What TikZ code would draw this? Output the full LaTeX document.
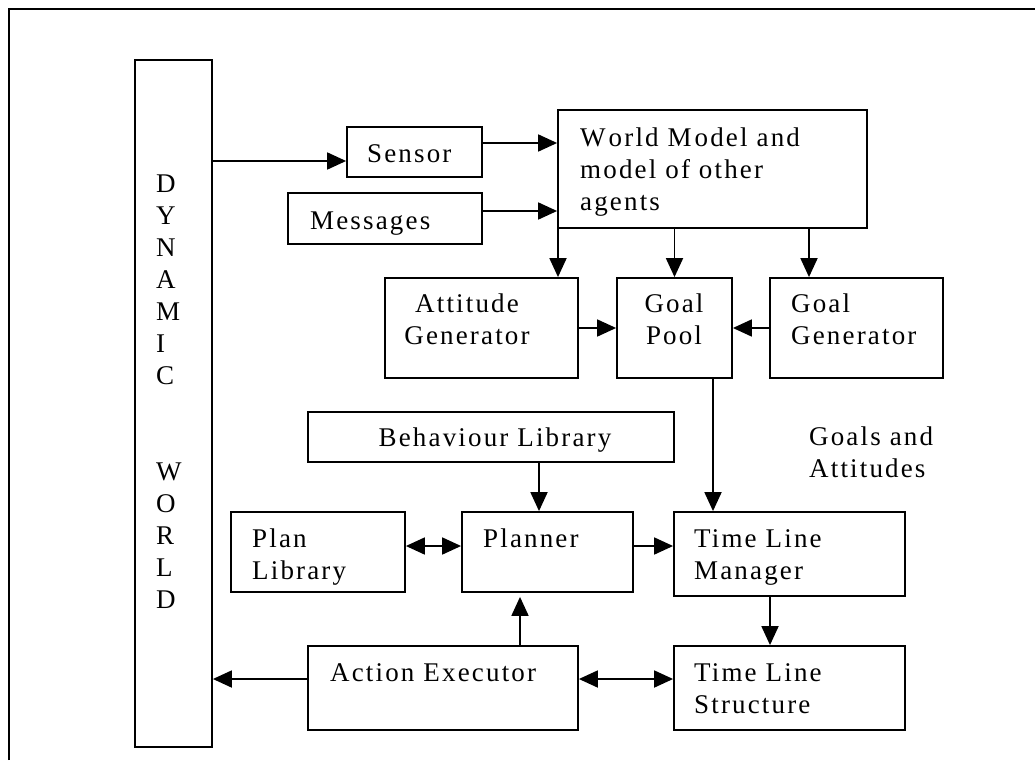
\documentclass[tikz,border=0pt]{standalone}
\usepackage{fontspec}
\setmainfont{Liberation Serif}[LetterSpace=8]
\usetikzlibrary{arrows.meta}
\begin{document}
\begin{tikzpicture}[x=1pt,y=-1pt,
  font=\fontsize{27pt}{32pt}\selectfont,
  box/.style={draw, line width=1.8pt, inner sep=0pt, rectangle},
  txt/.style={inner sep=0pt, anchor=base west, text width=320pt, align=left},
  ctxt/.style={inner sep=0pt, anchor=base, text width=400pt, align=center},
  arr/.style={line width=1.8pt, -{Triangle[length=19pt,width=17pt]}},
  darr/.style={line width=1.8pt, {Triangle[length=19pt,width=17pt]}-{Triangle[length=19pt,width=17pt]}}]
\useasboundingbox (0,0) rectangle (1035,760);
% outer frame (cropped)
\draw[line width=2.5pt] (9,760) -- (9,9) -- (1035,9);
% boxes
\node[box, minimum width=77pt,  minimum height=687pt] (dw)     at (173.5,403.5) {};
\node[box, minimum width=135pt, minimum height=50pt]  (sensor) at (414.5,152) {};
\node[box, minimum width=194pt, minimum height=51pt]  (msg)    at (385,218.5) {};
\node[box, minimum width=309pt, minimum height=118pt] (wm)     at (712.5,169) {};
\node[box, minimum width=193pt, minimum height=100pt] (att)    at (481.5,328) {};
\node[box, minimum width=115pt, minimum height=100pt] (pool)   at (674.5,328) {};
\node[box, minimum width=173pt, minimum height=100pt] (ggen)   at (856.5,328) {};
\node[box, minimum width=366pt, minimum height=50pt]  (beh)    at (491,437) {};
\node[box, minimum width=174pt, minimum height=80pt]  (plib)   at (318,552) {};
\node[box, minimum width=171pt, minimum height=80pt]  (plan)   at (547.5,552) {};
\node[box, minimum width=231pt, minimum height=84pt]  (tlm)    at (789.5,554) {};
\node[box, minimum width=231pt, minimum height=84pt]  (tls)    at (789.5,688) {};
\node[box, minimum width=270pt, minimum height=84pt]  (ae)     at (443,688) {};
% texts
\node[txt, text width=40pt] (dw-t) at (156,192) {D\\Y\\N\\A\\M\\I\\C\\[64pt]W\\O\\R\\L\\D};
\node[txt] (sensor-t) at (367,162) {Sensor};
\node[txt] (msg-t) at (310,229) {Messages};
\node[txt] (wm-t) at (580,146) {W\kern3pt orld M\kern3pt odel and\\model of other\\agents};
\node[ctxt] (att-t) at (467,312) {Attitude\\Generator};
\node[ctxt] (pool-t) at (674,312) {Goal\\Pool};
\node[txt] (ggen-t) at (791,312) {Goal\\Generator};
\node[ctxt] (beh-t) at (495,446) {Behaviour Library};
\node[txt] (ga-t) at (809,445) {Goals and\\Attitudes};
\node[txt] (plib-t) at (252,547) {Plan\\Library};
\node[txt] (plan-t) at (483,547) {Planner};
\node[txt] (tlm-t) at (694,547) {Time Line\\Manager};
\node[txt] (tls-t) at (694,681) {Time Line\\Structure};
\node[txt] (ae-t) at (330,681) {Action Executor};
% connectors
\draw[arr] (dw.east |- 0,161) -- (sensor.west |- 0,161);
\draw[arr] (sensor.east |- 0,143) -- (wm.west |- 0,143);
\draw[arr] (msg.east |- 0,211) -- (wm.west |- 0,211);
\draw[arr] (wm.south -| 558,0) -- (att.north -| 558,0);
\draw[arr] (wm.south -| pool.north) -- (pool.north);
\draw[arr] (wm.south -| 809,0) -- (ggen.north -| 809,0);
\draw[arr] (att.east) -- (pool.west);
\draw[arr] (ggen.west) -- (pool.east);
\draw[arr] (pool.south -| 713,0) -- (tlm.north -| 713,0);
\draw[arr] (beh.south -| 539,0) -- (plan.north -| 539,0);
\draw[darr] (plib.east |- 0,546) -- (plan.west |- 0,546);
\draw[arr] (plan.east |- 0,546) -- (tlm.west |- 0,546);
\draw[arr] (tlm.south -| 770,0) -- (tls.north -| 770,0);
\draw[arr, shorten >=4pt] (ae.north -| 520,0) -- (plan.south -| 520,0);
\draw[arr] (ae.west |- 0,679) -- (dw.east |- 0,679);
\draw[darr] (ae.east |- 0,679) -- (tls.west |- 0,679);
\end{tikzpicture}
\end{document}
